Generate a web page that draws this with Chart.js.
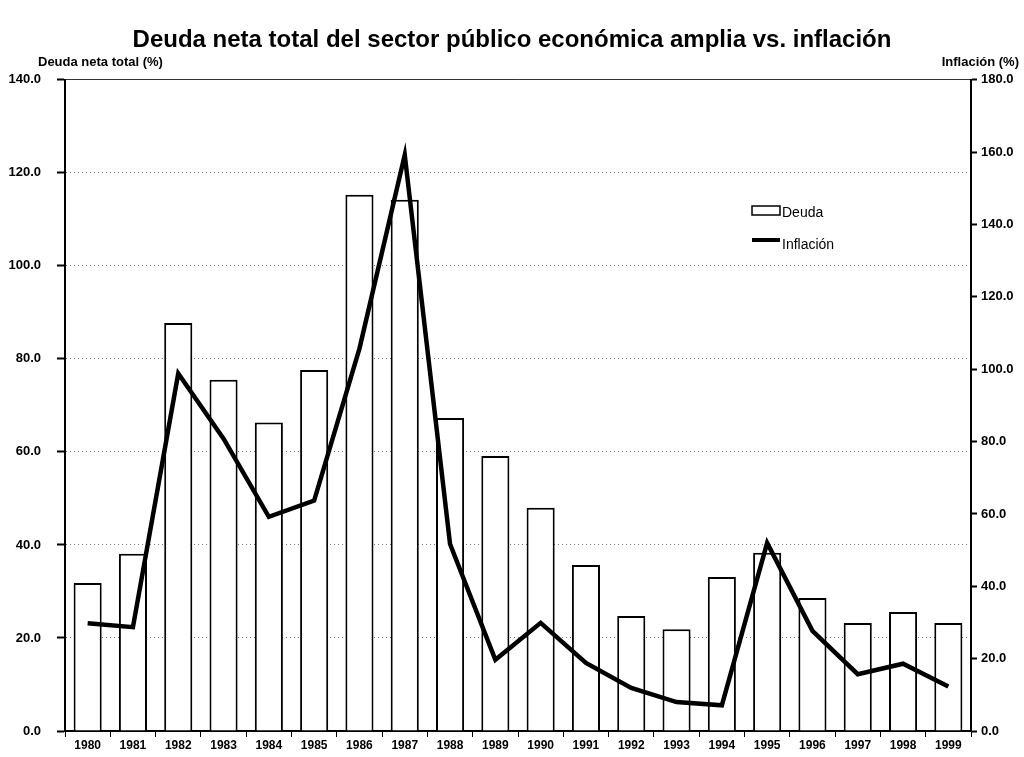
<!DOCTYPE html>
<html>
<head>
<meta charset="utf-8">
<script src="https://cdn.jsdelivr.net/npm/chart.js@4/dist/chart.umd.min.js"></script>
<style>
  html, body { margin: 0; padding: 0; background: #fff; }
  #wrap { width: 1024px; height: 757px; }
</style>
</head>
<body>
<div id="wrap"><canvas id="deudaChart" width="1024" height="757"></canvas></div>
<script>
// Datos
const anios = ['1980', '1981', '1982', '1983', '1984', '1985', '1986', '1987', '1988', '1989',
               '1990', '1991', '1992', '1993', '1994', '1995', '1996', '1997', '1998', '1999'];
const deuda = [31.8, 38.1, 87.7, 75.5, 66.3, 77.6, 115.3, 114.2, 67.3, 59.1,
               48.0, 35.7, 24.7, 21.9, 33.1, 38.3, 28.6, 23.2, 25.6, 23.2];
const inflacion = [29.8, 28.7, 98.8, 80.8, 59.2, 63.7, 105.7, 159.2, 51.7, 19.7,
                   29.9, 18.8, 11.9, 8.0, 7.1, 52.0, 27.7, 15.7, 18.6, 12.3];
const titulo = 'Deuda neta total del sector público económica amplia vs. inflación';
const tituloIzq = 'Deuda neta total (%)';
const tituloDer = 'Inflación (%)';

const fuente = "'Liberation Sans', Arial, sans-serif";

// Plugin para titulos de ejes y leyenda dentro del area
const extras = {
    id: 'extras',
    afterDraw(chart) {
        const ctx = chart.ctx;
        ctx.save();
        ctx.fillStyle = '#000';
        ctx.font = 'bold 13px ' + fuente;
        ctx.textBaseline = 'middle';
        ctx.textAlign = 'left';
        ctx.fillText(tituloIzq, 38, 62);
        ctx.textAlign = 'right';
        ctx.fillText(tituloDer, 1019, 62);

        // leyenda
        const lx = 752;
        ctx.strokeStyle = '#000';
        ctx.lineWidth = 1.5;
        ctx.fillStyle = '#fff';
        ctx.fillRect(lx, 206, 28, 9);
        ctx.strokeRect(lx, 206, 28, 9);
        ctx.lineWidth = 4;
        ctx.beginPath();
        ctx.moveTo(lx, 240);
        ctx.lineTo(lx + 28, 240);
        ctx.stroke();
        ctx.fillStyle = '#000';
        ctx.font = '14px ' + fuente;
        ctx.textAlign = 'left';
        ctx.fillText(chart.data.datasets[0].label, lx + 30, 213);
        ctx.fillText(chart.data.datasets[1].label, lx + 30, 245);
        ctx.restore();
    }
};

const ctx = document.getElementById('deudaChart').getContext('2d');
const deudaChart = new Chart(ctx, {
    type: 'bar',
    data: {
        labels: anios,
        datasets: [
            {
                label: 'Deuda',
                data: deuda,
                backgroundColor: '#fff',
                borderColor: '#000',
                borderWidth: 2,
                barPercentage: 0.62,
                categoryPercentage: 1,
                yAxisID: 'y',
                order: 2
            },
            {
                type: 'line',
                label: 'Inflación',
                data: inflacion,
                borderColor: '#000',
                borderWidth: 4.5,
                pointRadius: 0,
                tension: 0,
                fill: false,
                yAxisID: 'y2',
                order: 1
            }
        ]
    },
    options: {
        responsive: false,
        animation: false,
        layout: { padding: { left: 0, right: 0, top: 0, bottom: 0 } },
        plugins: {
            legend: { display: false },
            tooltip: { enabled: false },
            title: {
                display: true,
                text: titulo,
                color: '#000',
                font: { family: fuente, size: 24, weight: 'bold' },
                padding: { top: 26, bottom: 25 }
            }
        },
        scales: {
            x: {
                offset: true,
                grid: { display: true, drawOnChartArea: false, drawTicks: true, tickLength: 6, tickColor: '#000', offset: true },
                border: { display: true, color: '#000', width: 2 },
                ticks: { color: '#000', font: { family: fuente, size: 12, weight: 'bold' }, padding: 1, maxRotation: 0, autoSkip: false },
                afterFit(scale) { scale.height = 26; }
            },
            xTop: {
                type: 'category',
                position: 'top',
                labels: anios,
                grid: { display: false },
                ticks: { display: false },
                border: { display: true, color: '#333', width: 1 },
                afterFit(scale) { scale.height = 0; }
            },
            y: {
                position: 'left',
                min: 0,
                max: 140,
                ticks: {
                    stepSize: 20,
                    color: '#000',
                    padding: 16,
                    font: { family: fuente, size: 13, weight: 'bold' },
                    callback: v => v.toFixed(1)
                },
                grid: { color: '#777', lineWidth: 1, tickLength: 8, tickColor: '#000', tickWidth: 2 },
                border: { display: true, color: '#000', width: 2, dash: [1, 3] },
                afterFit(scale) { scale.width = 65; }
            },
            y2: {
                position: 'right',
                min: 0,
                max: 180,
                ticks: {
                    stepSize: 20,
                    color: '#000',
                    padding: 4,
                    font: { family: fuente, size: 13, weight: 'bold' },
                    callback: v => v.toFixed(1)
                },
                grid: { drawOnChartArea: false, tickLength: 6, tickColor: '#000', tickWidth: 2 },
                border: { display: true, color: '#000', width: 2 },
                afterFit(scale) { scale.width = 53; }
            }
        }
    },
    plugins: [extras]
});
</script>
</body>
</html>
